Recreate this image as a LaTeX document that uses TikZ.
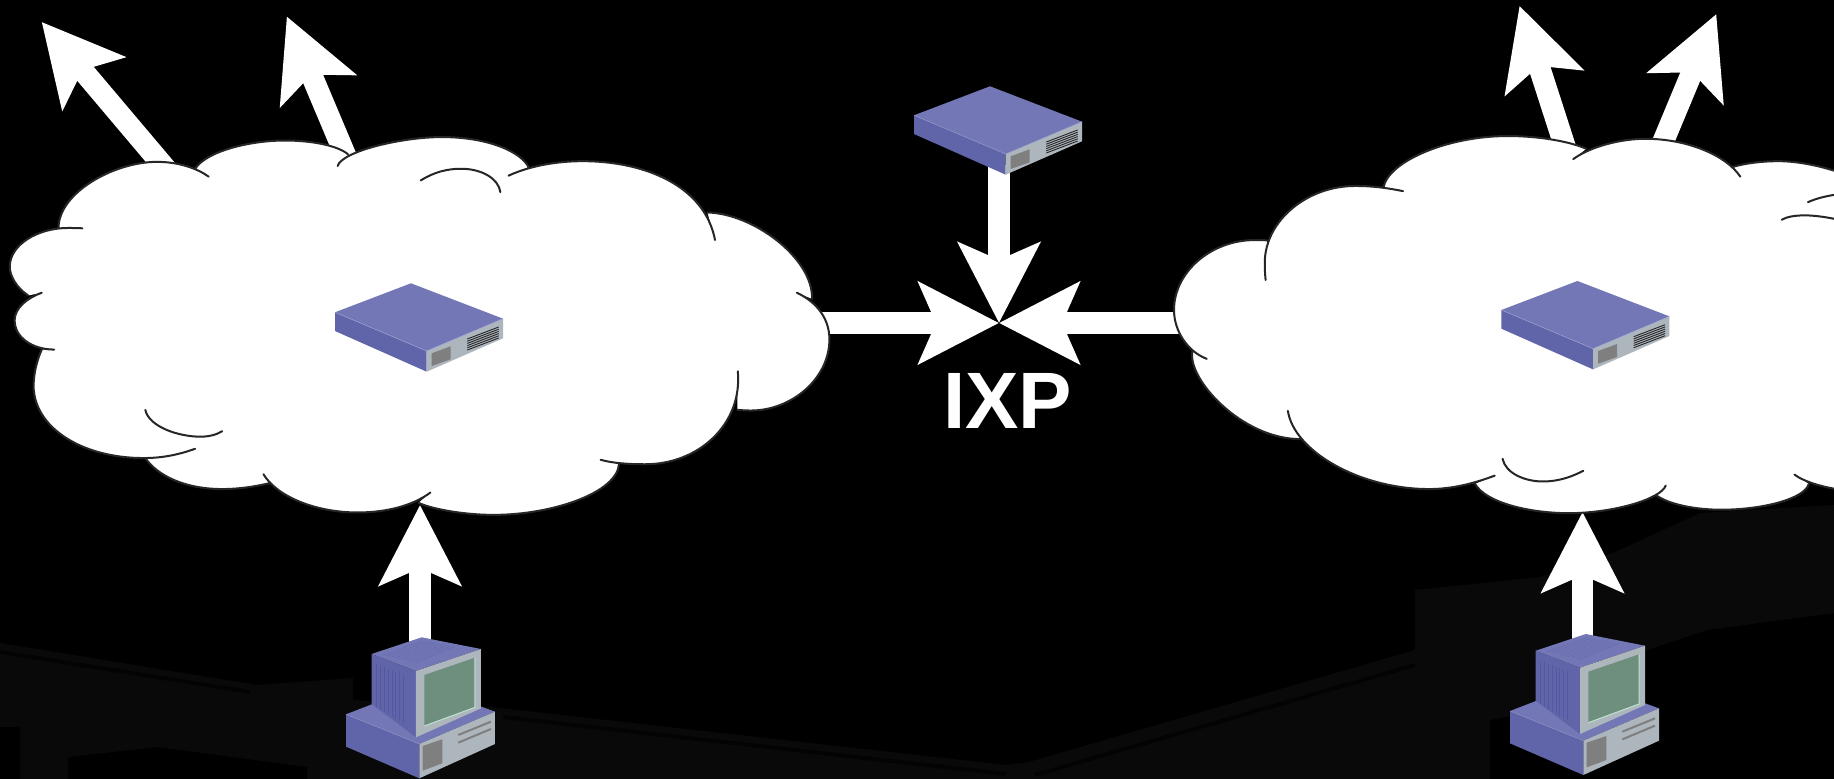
\documentclass[tikz,border=0pt]{standalone}
\usepackage{fontspec}
\setmainfont{Liberation Sans}
\usetikzlibrary{arrows.meta}

\newcommand{\leftCloudLobes}[1]{
    (108,662) .. controls (108,560) and (210,470) .. (290,470) .. controls (330,470) and (365,490) .. (385,513) #1
    (360,490) .. controls (380,440) and (460,408) .. (525,408) .. controls (580,408) and (625,425) .. (642,448) #1
    (623,482) .. controls (630,440) and (740,398) .. (815,398) .. controls (900,398) and (960,440) .. (975,485) #1
    (938,510) .. controls (980,480) and (1030,468) .. (1075,468) .. controls (1190,468) and (1300,540) .. (1319,697) #1
    (1305,617) .. controls (1390,620) and (1500,750) .. (1498,868) #1
    (1470,850) .. controls (1510,880) and (1530,930) .. (1530,985) .. controls (1530,1100) and (1460,1192) .. (1385,1192) .. controls (1375,1192) and (1368,1191) .. (1360,1190) #1
    (1361,1078) .. controls (1370,1230) and (1290,1348) .. (1190,1348) .. controls (1160,1348) and (1130,1345) .. (1108,1335) #1
    (1142,1345) .. controls (1140,1430) and (1020,1495) .. (910,1495) .. controls (860,1495) and (800,1480) .. (772,1460) #1
    (794,1430) .. controls (760,1470) and (710,1488) .. (660,1488) .. controls (580,1488) and (510,1440) .. (486,1377) #1
    (497,1403) .. controls (470,1413) and (440,1420) .. (410,1420) .. controls (340,1420) and (290,1380) .. (268,1330) #1
    (360,1303) .. controls (330,1320) and (300,1330) .. (265,1330) .. controls (150,1330) and (62,1240) .. (62,1120) .. controls (62,1090) and (67,1050) .. (77,1015) #1
    (100,1015) .. controls (60,1015) and (27,980) .. (27,930) .. controls (27,895) and (50,865) .. (77,850) #1
    (52,858) .. controls (30,835) and (18,800) .. (18,775) .. controls (18,710) and (70,662) .. (125,662) .. controls (135,662) and (145,662) .. (152,663)
}
\newcommand{\rightCloudLobes}[1]{
    (535,545) .. controls (545,470) and (680,395) .. (820,395) .. controls (890,395) and (960,410) .. (1000,432) #1
    (970,462) .. controls (1010,425) and (1080,403) .. (1135,403) .. controls (1230,403) and (1320,450) .. (1353,513) #1
    (1335,485) .. controls (1370,472) and (1410,468) .. (1440,468) .. controls (1490,468) and (1550,485) .. (1600,510) #1
    (1600,1425) .. controls (1550,1418) and (1500,1400) .. (1477,1378) #1
    (1510,1405) .. controls (1500,1450) and (1400,1480) .. (1310,1480) .. controls (1250,1480) and (1190,1465) .. (1160,1438) #1
    (1182,1410) .. controls (1170,1450) and (1060,1490) .. (960,1490) .. controls (870,1490) and (770,1460) .. (745,1405) #1
    (790,1381) .. controls (740,1405) and (690,1420) .. (640,1420) .. controls (480,1420) and (330,1310) .. (316,1193) #1
    (345,1275) .. controls (210,1275) and (85,1100) .. (97,1020) #1
    (130,1042) .. controls (85,1020) and (55,960) .. (55,900) .. controls (55,790) and (140,697) .. (240,697) .. controls (250,697) and (260,697) .. (268,698) #1
    (265,813) .. controls (263,790) and (263,775) .. (263,760) .. controls (265,640) and (360,540) .. (470,540) .. controls (510,540) and (540,545) .. (580,555)
}

\begin{document}
\begin{tikzpicture}[
        x=0.5pt, y=-0.5pt,
        pipe/.style={
            white, line width = 10.8pt, -{Stealth[length=40pt,width=40.5pt,inset=8.5pt]}
        },
        cloudline/.style={
            color = black!85, line width = 1pt, line cap = round
        },
        label/.style={
            white, font = \fontsize{40}{48}\selectfont\bfseries, inner sep = 0pt
        },
        router/.pic={
            \fill[topblue] (90,16.3) -- (182,51.7) -- (105.7,84) -- (14,45.3) -- cycle;
            \fill[sideblue] (14,45.3) -- (105.7,84) -- (105.7,104.7) -- (14,64) -- cycle;
            \fill[frontgray] (105.7,84) -- (182,51.7) -- (182,71.3) -- (105.7,104.7) -- cycle;
            \fill[slotgray] (110.7,86.3) -- (129.7,79.3) -- (129.7,92.3) -- (110.7,99) -- cycle;
            \draw[edgeblue, line width = 0.25pt] (14,45.3) -- (105.7,84) -- (182,51.7);
            \foreach \i in {0,...,5}
                \draw[black!85, line width = 0.45pt] (146.3,{72+\i*2.2}) -- (177.7,{60+\i*2.2});
        },
        desktop/.pic={
            \begin{scope}[scale=0.3333]
            % base
            \fill[topblue] (78,283) -- (305,195) -- (525,275) -- (298,372) -- cycle;
            \fill[sideblue] (78,283) -- (298,372) -- (298,475) -- (78,380) -- cycle;
            \fill[frontgray] (298,372) -- (525,275) -- (525,372) -- (298,475) -- cycle;
            \fill[slotgray] (308,378) -- (367,358) -- (367,430) -- (308,452) -- cycle;
            \draw[slotgray, line width = 1pt] (415,345) -- (513,305);
            \draw[slotgray, line width = 1pt] (415,368) -- (513,327);
            \draw[edgeblue, line width = 0.2pt] (78,283) -- (298,372);
            % monitor
            \fill[sideblue] (155,102) -- (288,153) -- (288,352) -- (155,252) -- cycle;
            \fill[topblue] (155,102) -- (305,52) -- (483,87) -- (288,153) -- cycle;
            \fill[frontgray] (288,153) -- (483,87) -- (483,265) -- (288,352) -- cycle;
            \fill[screengreen] (313,165) -- (465,113) -- (465,262) -- (313,318) -- cycle;
            \draw[screenedge, line width = 0.5pt] (465,113) -- (465,262) -- (313,318);
            \foreach \i in {0,...,7}
                \draw[ventblue, line width = 0.4pt] ({170+\i*11.5},{132+\i*4.6}) -- ({170+\i*11.5},{262+\i*7});
            \foreach \i in {0,...,8}
                \draw[gridblue, line width = 0.3pt] ({190+\i*12},{105+\i*3}) -- ({310+\i*12},{62+\i*2.2});
            \end{scope}
        },
    ]
    \definecolor{topblue}{HTML}{7377B5}
    \definecolor{sideblue}{HTML}{6064A8}
    \definecolor{ventblue}{HTML}{5558A0}
    \definecolor{gridblue}{HTML}{686BAE}
    \definecolor{edgeblue}{HTML}{9EA2D4}
    \definecolor{frontgray}{HTML}{ADB5BD}
    \definecolor{slotgray}{HTML}{7F7F7F}
    \definecolor{screengreen}{HTML}{6E8F7E}
    \definecolor{screenedge}{HTML}{BFE3D0}
    \definecolor{backdrop}{HTML}{090909}
    \definecolor{backdropline}{HTML}{030303}

    \useasboundingbox (0,0) rectangle (1834,779);
    \fill[black] (0,0) rectangle (1834,779);

    % faint backdrop
    \fill[backdrop] (0,643) -- (257,685) -- (353,678) -- (353,700) -- (491,707) -- (1006,765) -- (1029,762)
        -- (1415,650) -- (1415,590) -- (1540,577) -- (1613,553) -- (1700,513) -- (1834,505) -- (1834,613)
        -- (1707,630) -- (1647,650) -- (1600,700) -- (1490,720) -- (1490,779) -- (307,779) -- (307,767)
        -- (157,747) -- (68,757) -- (68,779) -- (20,779) -- (20,727) -- (0,727) -- cycle;
    \draw[backdropline, line width = 2pt] (0,652) -- (250,692);
    \draw[backdropline, line width = 2pt] (503,717) -- (1006,774);
    \draw[backdropline, line width = 2pt] (1035,775) -- (1415,665);

    \coordinate (ixpPoint) at (999,323);
    \coordinate (ixpRouterPort) at (999,165);
    \coordinate (leftPeer) at (790,323);
    \coordinate (rightPeer) at (1210,323);
    \coordinate (leftPc) at (420,645);
    \coordinate (leftPcEntry) at (420,505);
    \coordinate (rightPc) at (1582.5,645);
    \coordinate (rightPcEntry) at (1582.5,512);
    \coordinate (leftUplinkA) at (171,175);
    \coordinate (leftExitA) at (41.7,22);
    \coordinate (leftUplinkB) at (352.8,173);
    \coordinate (leftExitB) at (286.8,16.5);
    \coordinate (rightUplinkA) at (1571.7,167.7);
    \coordinate (rightExitA) at (1519.5,5.9);
    \coordinate (rightUplinkB) at (1650.9,171);
    \coordinate (rightExitB) at (1716.3,14.1);

    \draw[pipe] (ixpRouterPort) -- (ixpPoint);
    \draw[pipe] (leftPeer) -- (ixpPoint);
    \draw[pipe] (rightPeer) -- (ixpPoint);
    \draw[pipe] (leftPc) -- (leftPcEntry);
    \draw[pipe] (rightPc) -- (rightPcEntry);
    \draw[pipe] (leftUplinkA) -- (leftExitA);
    \draw[pipe] (leftUplinkB) -- (leftExitB);
    \draw[pipe] (rightUplinkA) -- (rightExitA);
    \draw[pipe] (rightUplinkB) -- (rightExitB);

    % clouds
    \begin{scope}[xscale=0.5421, yscale=0.3444]
        \fill[white] \leftCloudLobes{--} -- cycle;
        \draw[cloudline] \leftCloudLobes{};
        \draw[cloudline] (776,524) .. controls (800,500) and (825,490) .. (850,490) .. controls (890,490) and (920,520) .. (923,558);
        \draw[cloudline] (268,1190) .. controls (275,1240) and (330,1268) .. (370,1268) .. controls (385,1268) and (400,1262) .. (410,1252);
    \end{scope}
    \begin{scope}[shift={(1150,0)}, xscale=0.4363, yscale=0.3444]
        \fill[white] \rightCloudLobes{--} -- cycle;
        \draw[cloudline] \rightCloudLobes{};
        \draw[cloudline] (808,1332) .. controls (815,1375) and (860,1398) .. (900,1398) .. controls (940,1398) and (970,1382) .. (993,1367);
        \draw[cloudline] (1448,638) .. controls (1470,622) and (1520,618) .. (1600,645);
        \draw[cloudline] (1508,587) .. controls (1530,575) and (1550,568) .. (1600,560);
    \end{scope}

    \pic (ixpRouter) at (900,70) {router};
    \pic (leftRouter) at (321,267) {router};
    \pic (rightRouter) at (1487.4,264.7) {router};
    \pic (leftDesktop) at (320,620) {desktop};
    \pic (rightDesktop) at (1484,616.7) {desktop};

    \node (ixpLabel) [label] at (1007.5,401) {IXP};
\end{tikzpicture}
\end{document}
